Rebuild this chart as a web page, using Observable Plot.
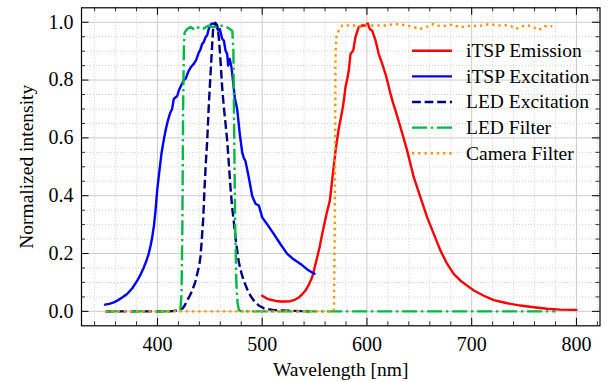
<!DOCTYPE html>
<html><head><meta charset="utf-8">
<script src="https://cdn.jsdelivr.net/npm/d3@7"></script>
<script src="https://cdn.jsdelivr.net/npm/@observablehq/plot@0.6"></script>
<style>
body{margin:0;background:#fff}
#chart{position:relative;width:609px;height:382px}
#chart svg{font-family:"Liberation Serif",serif;overflow:visible}
#legend{position:absolute;left:0;top:0}
</style></head><body><div id="chart"></div>
<script>
// ---- data ----
const emissionWl = [500,504,508,513,517.5,522,527,531,535,538,541.3,544.5,547.7,550,552.5,555,557.3,559.5,561.4,563,564.6,567,570,573,576.4,578,579.5,581,582.7,584.3,586.9,589,590.5,592.2,595.5,598.6,600.8,602.7,605,608.2,611.3,614.6,617.7,620,622.5,625,627.3,632,638.4,644.7,651.1,657.5,663.8,670.2,676.6,683,689.3,695.7,702,711.6,721.1,733.9,746.6,759.3,772,784.8,800];
const emissionV = [0.054,0.045,0.04,0.036,0.034,0.034,0.035,0.04,0.048,0.058,0.072,0.092,0.118,0.15,0.187,0.225,0.268,0.305,0.337,0.36,0.383,0.46,0.555,0.63,0.694,0.73,0.775,0.80,0.833,0.89,0.902,0.948,0.965,0.983,0.989,0.989,0.996,0.977,0.971,0.937,0.89,0.856,0.821,0.79,0.752,0.72,0.694,0.637,0.556,0.464,0.394,0.325,0.268,0.21,0.164,0.129,0.106,0.089,0.072,0.054,0.039,0.028,0.02,0.014,0.009,0.006,0.005];

const excitationWl = [350,354,358.3,362,366,371,376,380.7,384,387,389.5,391.7,393.5,395,396.6,398.1,399.8,402,404,406.4,408,410,412,414,415.6,418.9,420.4,422.5,425.2,427,428.5,430,432,434.7,437,439.5,441,442.7,444,445.9,447.5,449,451.3,453.8,456,458,459.5,461.8,463.4,465,466.6,467.5,469,470.7,472.3,473.8,476.1,478.6,480.9,482.5,484,487.2,490.4,493.6,496.8,500,505,511,517.5,523.9,530,536.6,543,549.3,550];
const excitationV = [0.023,0.026,0.031,0.038,0.047,0.06,0.08,0.106,0.128,0.152,0.175,0.2,0.228,0.256,0.295,0.345,0.42,0.49,0.55,0.6,0.63,0.66,0.685,0.70,0.735,0.745,0.764,0.78,0.80,0.805,0.82,0.833,0.845,0.856,0.87,0.896,0.905,0.925,0.93,0.948,0.955,0.977,0.994,0.996,0.989,0.971,0.977,0.943,0.937,0.902,0.89,0.85,0.873,0.844,0.792,0.74,0.70,0.614,0.55,0.53,0.52,0.464,0.40,0.372,0.366,0.325,0.30,0.268,0.232,0.199,0.18,0.164,0.145,0.131,0.13];

const ledExWl = [350,370,390,405,415,420,424,426,428.4,431,433.2,436,438,440,441.1,442,442.7,443.7,444.3,445,446.3,447.5,449,450.5,452.3,453.2,455.4,457,458.6,460.2,461.8,463.4,465,466.6,468,469.7,471.3,472.9,475,477.7,480,482.4,485.5,488.8,492.5,496.8,502,510,525,545];
const ledExV = [0,0,0,0,0.001,0.003,0.01,0.02,0.037,0.055,0.072,0.1,0.13,0.16,0.19,0.23,0.268,0.32,0.37,0.43,0.52,0.59,0.71,0.81,0.925,0.98,0.998,0.99,0.948,0.867,0.775,0.705,0.65,0.59,0.52,0.43,0.36,0.31,0.24,0.17,0.135,0.106,0.078,0.054,0.035,0.02,0.01,0.005,0.002,0];

const ledFilterWl = [350,380,410,421,422,423,423.8,424.5,425.3,426,428.5,431.5,434.5,437.5,441,444,448.5,453.5,458,461.5,466.5,469,471.5,472.5,473.3,474.2,475.3,476.5,477.7,480,600,700,780];
const ledFilterV = [0,0,0,0.003,0.01,0.06,0.3,0.7,0.93,0.965,0.977,0.983,0.977,0.985,0.977,0.978,0.988,0.983,0.985,0.988,0.983,0.977,0.97,0.9,0.6,0.3,0.1,0.03,0.005,0,0,0,0];

const camWl = [350,450,568.5,569.3,570,571,573,576.4,582.7,589,593.8,600,606.6,613,619.3,625.7,632,638.4,644.7,651,657.5,663.8,670,676.6,682,688,694,700,706.6,713,719,726,731.6,737.6,741.8,748,754,759,764,769.5,775,777];
const camV = [0,0,0,0.3,0.9,0.955,0.971,0.989,0.989,0.989,0.985,0.989,0.989,0.989,0.989,0.994,0.992,0.989,0.983,0.977,0.985,0.994,0.986,0.989,0.992,0.983,0.985,0.989,0.986,0.992,0.992,0.989,0.99,0.986,0.977,0.986,0.989,0.983,0.973,0.986,0.986,0.986];

const seriesNames = ["iTSP Emission","iTSP Excitation","LED Excitation","LED Filter","Camera Filter"];
const xMajor = [400,500,600,700,800];
const xMinor = [340,360,380,420,440,460,480,520,540,560,580,620,640,660,680,720,740,760,780,820];
const yMajor = [0,0.2,0.4,0.6,0.8,1.0];
const yMinor = [0.05,0.1,0.15,0.25,0.3,0.35,0.45,0.5,0.55,0.65,0.7,0.75,0.85,0.9,0.95];
const yTickLabels = ["0.0","0.2","0.4","0.6","0.8","1.0"];
const xLabel = "Wavelength [nm]";
const yLabel = "Normalized intensity";

// ---- build ----
const zip = (w, v) => w.map((d, i) => ({wl: d, v: v[i]}));
const styles = [
  {stroke: "#ff0000", dash: null},
  {stroke: "#0000ff", dash: null},
  {stroke: "#000080", dash: "8.8,3.8"},
  {stroke: "#00B945", dash: "15,3.8,2.4,3.8"},
  {stroke: "#FF9500", dash: "2.4,3.8"}
];
const seriesData = [zip(emissionWl, emissionV), zip(excitationWl, excitationV), zip(ledExWl, ledExV), zip(ledFilterWl, ledFilterV), zip(camWl, camV)];

const W = 609, H = 382, mL = 81, mR = 9.5, mT = 7.3, mB = 56.7;
const pw = W - mL - mR, ph = H - mT - mB;
const majLen = 7.5, minLen = 4;
const font = '"Liberation Serif", serif';
const fs = 19.5, fsTick = 20;

const marks = [
  Plot.gridX(xMinor, {stroke: "#c4c4c4", strokeOpacity: 1, strokeWidth: 0.8, strokeDasharray: "1,2"}),
  Plot.gridY(yMinor, {stroke: "#c4c4c4", strokeOpacity: 1, strokeWidth: 0.8, strokeDasharray: "1,2"}),
  Plot.gridX(xMajor, {stroke: "#cccccc", strokeOpacity: 1, strokeWidth: 1}),
  Plot.gridY(yMajor, {stroke: "#cccccc", strokeOpacity: 1, strokeWidth: 1}),
];
seriesData.forEach((d, i) => {
  marks.push(Plot.line(d, {x: "wl", y: "v", stroke: styles[i].stroke, strokeWidth: 2.4,
    strokeDasharray: styles[i].dash, strokeLinejoin: "round", strokeLinecap: styles[i].dash ? "butt" : "round"}));
});
marks.push(
  Plot.frame({stroke: "black", strokeWidth: 1.2}),
  Plot.tickX(xMajor, {x: d => d, stroke: "black", strokeWidth: 1, insetTop: ph - majLen}),
  Plot.tickX(xMajor, {x: d => d, stroke: "black", strokeWidth: 1, insetBottom: ph - majLen}),
  Plot.tickX(xMinor, {x: d => d, stroke: "black", strokeWidth: 0.8, insetTop: ph - minLen}),
  Plot.tickX(xMinor, {x: d => d, stroke: "black", strokeWidth: 0.8, insetBottom: ph - minLen}),
  Plot.tickY(yMajor, {y: d => d, stroke: "black", strokeWidth: 1, insetRight: pw - majLen}),
  Plot.tickY(yMajor, {y: d => d, stroke: "black", strokeWidth: 1, insetLeft: pw - majLen}),
  Plot.tickY(yMinor, {y: d => d, stroke: "black", strokeWidth: 0.8, insetRight: pw - minLen}),
  Plot.tickY(yMinor, {y: d => d, stroke: "black", strokeWidth: 0.8, insetLeft: pw - minLen}),
  Plot.axisX({ticks: xMajor, tickSize: 0, tickPadding: 11, fontSize: fsTick, label: null, fill: "#000"}),
  Plot.axisY({ticks: yMajor, tickSize: 0, tickPadding: 8, fontSize: fsTick, label: null, fill: "#000",
    tickFormat: d => yTickLabels[yMajor.indexOf(d)] ?? d3.format(".1f")(d)}),
  Plot.text([xLabel], {frameAnchor: "bottom", text: d => d, dy: 43.5, lineAnchor: "middle", textAnchor: "middle", fontSize: fs, fill: "#000"}),
  Plot.text([yLabel], {frameAnchor: "left", text: d => d, dx: -55, rotate: -90, lineAnchor: "middle", textAnchor: "middle", fontSize: fs, fill: "#000"})
);

const chart = Plot.plot({
  width: W, height: H,
  marginLeft: mL, marginRight: mR, marginTop: mT, marginBottom: mB,
  style: {fontFamily: font, background: "white", overflow: "visible"},
  x: {domain: [327.5, 822.5]},
  y: {domain: [-0.05, 1.05]},
  marks
});
const host = document.getElementById("chart");
host.appendChild(chart);

// ---- legend (inside axes, top right) ----
const leg = d3.create("svg").attr("id", "legend").attr("width", W).attr("height", H)
  .style("font-family", font);
const rowY0 = 50.7, rowStep = 25.65;
seriesNames.forEach((name, i) => {
  const y = rowY0 + i * rowStep;
  leg.append("line").attr("x1", 412).attr("x2", 452).attr("y1", y).attr("y2", y)
    .attr("stroke", styles[i].stroke).attr("stroke-width", 2.4)
    .attr("stroke-dasharray", styles[i].dash);
  leg.append("text").attr("x", 466).attr("y", y).attr("dy", "0.33em")
    .attr("font-size", fs).attr("fill", "#000").text(name);
});
host.appendChild(leg.node());
</script></body></html>
